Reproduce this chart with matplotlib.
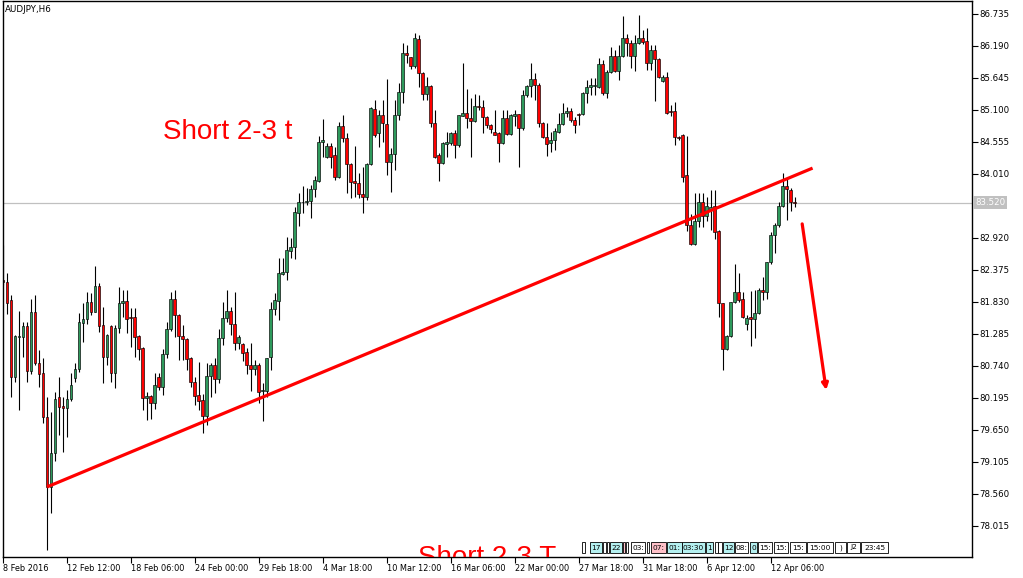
import numpy as np
import matplotlib.pyplot as plt
from matplotlib.patches import Rectangle
from matplotlib.transforms import blended_transform_factory

plt.rcParams['font.family'] = ['DejaVu Sans']

symbol = 'AUDJPY,H6'

# H6 candles (one value per bar)
opens = [82.21, 82.17, 81.86, 80.55, 81.24, 81.24, 81.42, 80.66, 81.66, 80.79,
         80.62, 79.87, 78.68, 79.26, 80.21, 80.06, 80.02, 80.18, 80.54, 80.69,
         81.47, 81.54, 81.83, 81.66, 82.10, 81.44, 80.89, 81.42, 80.62, 81.39,
         81.81, 81.85, 81.57, 81.57, 81.25, 81.05, 80.19, 80.23, 80.11, 80.55,
         80.38, 80.94, 81.37, 81.88, 81.61, 81.25, 81.20, 80.88, 80.47, 80.25,
         80.16, 79.89, 80.57, 80.76, 80.52, 81.22, 81.56, 81.68, 81.45, 81.13,
         81.12, 80.98, 80.76, 80.69, 80.76, 80.31, 80.31, 80.89, 81.71, 81.85,
         82.31, 82.34, 82.70, 82.77, 83.35, 83.53, 83.53, 83.55, 83.75, 83.89,
         84.55, 84.30, 84.49, 84.33, 83.96, 84.83, 84.62, 84.18, 83.89, 83.86,
         83.67, 83.62, 84.18, 85.12, 84.71, 85.01, 84.86, 84.21, 84.35, 85.01,
         85.41, 86.07, 86.00, 85.85, 86.31, 85.73, 85.37, 85.51, 84.88, 84.33,
         84.20, 84.52, 84.54, 84.71, 84.50, 85.00, 85.05, 84.96, 84.91, 85.17,
         85.15, 84.98, 84.84, 84.73, 84.71, 84.54, 84.96, 84.69, 85.00, 85.03,
         84.79, 85.35, 85.51, 85.63, 85.53, 84.88, 84.64, 84.54, 84.59, 84.73,
         84.86, 85.05, 85.08, 84.93, 85.03, 85.03, 85.39, 85.49, 85.51, 85.49,
         85.88, 85.39, 85.75, 86.02, 85.76, 86.02, 86.33, 86.24, 86.02, 86.24,
         86.33, 86.27, 85.90, 86.12, 85.97, 85.59, 85.66, 85.08, 85.08, 84.64,
         84.67, 83.99, 83.14, 82.82, 83.21, 83.53, 83.29, 83.40, 83.47, 83.04,
         81.81, 81.03, 81.25, 81.83, 82.00, 81.88, 81.46, 81.57, 81.54, 81.64,
         82.03, 82.00, 82.51, 82.97, 83.14, 83.46, 83.80, 83.74, 83.53]
highs = [82.80, 82.32, 81.95, 81.27, 81.68, 81.49, 81.49, 81.88, 81.95, 81.01,
         80.88, 80.21, 79.96, 80.30, 80.55, 80.21, 80.33, 80.62, 80.79, 81.64,
         81.81, 82.00, 81.98, 82.44, 82.15, 81.74, 81.29, 81.43, 81.44, 82.09,
         82.03, 82.03, 81.73, 81.73, 81.26, 81.06, 80.30, 80.24, 80.62, 80.62,
         81.03, 81.49, 82.00, 82.03, 81.62, 81.44, 81.22, 80.89, 80.55, 80.81,
         80.26, 80.79, 80.79, 80.88, 81.37, 81.83, 82.03, 81.74, 82.00, 81.27,
         81.13, 81.05, 81.13, 80.84, 80.79, 80.45, 80.88, 81.83, 81.98, 82.58,
         82.58, 82.94, 82.92, 83.45, 83.69, 83.81, 83.77, 83.82, 83.98, 84.66,
         84.95, 84.54, 84.54, 84.47, 84.90, 85.02, 84.71, 84.20, 84.49, 84.03,
         84.13, 84.20, 85.15, 85.27, 85.10, 85.27, 85.63, 84.45, 85.27, 85.56,
         86.24, 86.21, 86.01, 86.41, 86.38, 85.75, 85.66, 85.53, 85.10, 84.37,
         84.55, 84.72, 84.72, 84.76, 85.02, 85.90, 85.46, 85.30, 85.37, 85.35,
         85.27, 85.00, 84.86, 85.10, 84.72, 85.10, 85.10, 85.03, 85.10, 85.04,
         85.44, 85.53, 85.90, 85.73, 85.56, 84.90, 84.88, 84.72, 84.79, 85.05,
         85.22, 85.15, 85.13, 84.98, 85.05, 85.40, 85.61, 85.64, 85.64, 85.99,
         85.95, 85.78, 86.17, 86.12, 86.21, 86.70, 86.39, 86.29, 86.38, 86.72,
         86.46, 86.50, 86.21, 86.21, 85.99, 85.70, 85.75, 85.18, 85.24, 84.66,
         84.69, 84.66, 83.33, 83.69, 83.69, 83.69, 83.62, 83.74, 83.74, 83.05,
         81.82, 81.27, 81.83, 82.48, 82.32, 82.00, 81.61, 82.02, 82.03, 82.07,
         82.26, 82.51, 83.02, 83.17, 83.53, 84.02, 83.94, 83.77, 83.62]
lows = [82.12, 81.63, 80.21, 80.47, 79.99, 80.89, 80.47, 80.60, 80.76, 80.38,
        79.77, 77.61, 78.24, 79.12, 79.57, 79.28, 79.53, 80.14, 80.47, 80.64,
        81.15, 81.46, 81.61, 81.66, 81.32, 80.45, 80.76, 80.47, 80.36, 81.30,
        81.57, 81.30, 81.06, 80.89, 80.84, 79.99, 79.82, 79.84, 80.01, 80.33,
        80.25, 80.88, 81.34, 81.23, 80.84, 80.84, 80.67, 80.38, 80.08, 79.99,
        79.60, 79.73, 80.21, 80.28, 80.45, 81.10, 81.49, 81.27, 81.01, 81.03,
        80.82, 80.60, 80.31, 80.59, 80.11, 79.80, 80.21, 80.67, 81.61, 81.52,
        82.29, 82.21, 82.58, 82.56, 83.12, 83.35, 83.48, 83.26, 83.62, 83.87,
        84.30, 84.28, 84.11, 83.91, 83.94, 84.55, 83.69, 83.60, 83.62, 83.60,
        83.35, 83.57, 84.16, 84.64, 84.47, 84.55, 84.00, 83.70, 84.08, 84.93,
        85.22, 85.90, 85.80, 85.81, 85.49, 85.27, 85.27, 84.81, 84.28, 83.89,
        84.18, 84.30, 84.50, 84.28, 84.47, 84.99, 84.79, 84.30, 84.89, 85.10,
        84.71, 84.79, 84.71, 84.67, 84.21, 84.52, 84.67, 84.67, 84.83, 84.13,
        84.76, 85.32, 85.32, 85.27, 84.81, 84.62, 84.32, 84.38, 84.42, 84.71,
        84.84, 84.98, 84.90, 84.71, 84.84, 85.01, 85.22, 85.36, 85.36, 85.48,
        85.36, 85.30, 85.73, 85.75, 85.61, 86.00, 86.02, 85.81, 85.76, 86.22,
        86.22, 85.78, 85.78, 85.25, 85.64, 85.58, 85.03, 85.00, 84.50, 84.59,
        83.87, 83.04, 82.80, 82.80, 83.11, 83.11, 83.21, 83.06, 82.91, 81.57,
        80.67, 81.01, 81.23, 81.81, 81.83, 81.56, 81.35, 81.08, 81.22, 81.63,
        81.86, 81.88, 82.48, 82.66, 83.11, 83.45, 83.23, 83.38, 83.45]
closes = [82.17, 81.81, 80.55, 81.25, 81.25, 81.42, 80.66, 81.66, 80.79, 80.60,
          79.87, 78.68, 79.26, 80.18, 80.04, 80.02, 80.18, 80.42, 80.69, 81.49,
          81.54, 81.83, 81.66, 82.10, 81.42, 80.89, 81.27, 80.62, 81.39, 81.81,
          81.85, 81.54, 81.56, 81.23, 81.03, 80.19, 80.23, 80.11, 80.42, 80.38,
          80.94, 81.37, 81.88, 81.61, 81.25, 81.20, 80.86, 80.47, 80.23, 80.14,
          79.89, 80.57, 80.76, 80.52, 81.22, 81.56, 81.68, 81.45, 81.13, 81.23,
          80.96, 80.76, 80.69, 80.76, 80.30, 80.33, 80.88, 81.71, 81.86, 82.32,
          82.34, 82.72, 82.77, 83.36, 83.53, 83.54, 83.55, 83.75, 83.91, 84.55,
          84.59, 84.49, 84.30, 83.96, 84.83, 84.62, 84.18, 83.87, 83.86, 83.67,
          83.62, 84.18, 85.13, 84.67, 85.01, 84.88, 84.21, 84.35, 85.01, 85.41,
          86.07, 86.04, 85.85, 86.33, 85.73, 85.37, 85.51, 84.88, 84.30, 84.20,
          84.54, 84.55, 84.71, 84.50, 85.01, 85.05, 84.96, 84.91, 85.17, 85.15,
          84.98, 84.84, 84.78, 84.67, 84.54, 84.96, 84.69, 85.01, 85.03, 84.79,
          85.35, 85.51, 85.63, 85.53, 84.88, 84.64, 84.52, 84.59, 84.74, 84.86,
          85.05, 85.08, 84.93, 84.84, 85.02, 85.39, 85.49, 85.53, 85.53, 85.88,
          85.39, 85.75, 86.02, 85.76, 86.02, 86.33, 86.24, 86.02, 86.24, 86.33,
          86.26, 85.90, 86.12, 85.97, 85.66, 85.66, 85.05, 85.07, 84.64, 84.63,
          83.96, 83.14, 82.82, 83.21, 83.53, 83.29, 83.46, 83.45, 83.02, 81.81,
          81.03, 81.25, 81.83, 82.00, 81.86, 81.57, 81.56, 81.54, 81.64, 82.03,
          82.00, 82.51, 82.97, 83.14, 83.46, 83.80, 83.75, 83.53, 83.52]

date_labels = ['8 Feb 2016', '12 Feb 12:00', '18 Feb 06:00', '24 Feb 00:00',
               '29 Feb 18:00', '4 Mar 18:00', '10 Mar 12:00', '16 Mar 06:00',
               '22 Mar 00:00', '27 Mar 18:00', '31 Mar 18:00', '6 Apr 12:00',
               '12 Apr 06:00']
price_ticks = [78.015, 78.560, 79.105, 79.650, 80.195, 80.740, 81.285, 81.830,
               82.375, 82.920, 83.465, 84.010, 84.555, 85.100, 85.645, 86.190,
               86.735]
last_price = 83.520

# hand-drawn objects
trend_x = [11, 202.5]
trend_y = [78.68, 84.11]
arrow_from = (199.9, 83.16)
arrow_to = (205.9, 80.33)

W, H = 1023, 578
fig = plt.figure(figsize=(W / 100, H / 100), dpi=100)
ax = fig.add_axes([3 / W, 21 / H, 969 / W, 556 / H])

x = np.arange(len(opens))
o = np.array(opens)
c = np.array(closes)
up = c >= o
colors = np.where(up, '#2e9a5c', '#ff0000')

ax.axhline(last_price, color='#c0c0c0', lw=0.9, zorder=0)
ax.vlines(x, lows, highs, color='black', lw=0.8, zorder=1)
ax.bar(x, np.abs(c - o), bottom=np.minimum(o, c), width=0.72, color=colors,
       edgecolor='black', linewidth=0.45, zorder=2)

ax.plot(trend_x, trend_y, color='#ff0000', lw=2.3, zorder=3, solid_capstyle='butt')
ax.annotate('', xy=arrow_to, xytext=arrow_from,
            arrowprops=dict(arrowstyle='-|>', color='#ff0000', lw=2.3,
                            mutation_scale=9, shrinkA=0, shrinkB=0), zorder=3)

ax.text(40.1, 84.60, 'Short 2-3 t', color='#ff0000', fontsize=20,
        family='Liberation Sans', va='baseline', ha='left')
ax.text(103.9, 77.35, 'Short 2-3 T', color='#ff0000', fontsize=20,
        family='Liberation Sans', va='baseline', ha='left', clip_on=True)

ax.set_xlim(0.125, 242.375)
ax.set_ylim(77.487, 86.956)

ax.set_xticks(np.arange(len(date_labels)) * 16)
ax.set_xticklabels(date_labels)
for lbl in ax.get_xticklabels():
    lbl.set_ha('left')
ax.yaxis.tick_right()
ax.set_yticks(price_ticks)
# the 83.465 label sits under the current-price box
ax.set_yticklabels(['' if abs(p - last_price) < 0.1 else '%.3f' % p for p in price_ticks])
ax.tick_params(axis='x', direction='out', length=4, width=0.8, labelsize=5.9, pad=1)
ax.tick_params(axis='y', direction='out', length=4, width=0.8, labelsize=6.2, pad=1.5)
for s in ax.spines.values():
    s.set_linewidth(1)

tr = blended_transform_factory(ax.transAxes, ax.transData)
ax.text(1.003, last_price, '%.3f' % last_price, transform=tr, color='white',
        fontsize=6.2, va='center', ha='left', clip_on=False, zorder=10,
        bbox=dict(boxstyle='square,pad=0.25', fc='#c0c0c0', ec='none'))

fig.text(5 / W, 1 - 10 / H, symbol, fontsize=6.3, va='center', ha='left')

# event markers strip at the bottom right
strip = [(582, 585, '', 'white'), (590, 602, '17', '#b4f0f0'), (603, 606, '', 'white'),
         (607, 609, '', 'white'), (610, 622, '22', '#b4f0f0'), (623, 625, '', '#ffc0c8'),
         (626, 628, '', 'white'), (631, 645, '03:', 'white'), (647, 649, '', 'white'),
         (651, 666, '07:', '#ffc0c8'), (667, 682, '01:', '#b4f0f0'),
         (682, 705, '03:30', '#b4f0f0'), (706, 713, '1', '#b4f0f0'),
         (715, 718, '', 'white'), (718, 722, '', 'white'), (723, 734, '12', '#b4f0f0'),
         (735, 748, '08:', 'white'), (750, 757, '0', '#b4f0f0'), (758, 772, '15:', 'white'),
         (774, 788, '15:', 'white'), (790, 806, '15:', 'white'), (807, 833, '15:00', 'white'),
         (835, 846, ')', 'white'), (847, 860, 'J2', 'white'), (861, 888, '23:45', 'white')]
for x0, x1, txt, fc in strip:
    fig.patches.append(Rectangle((x0 / W, 1 - 553 / H), (x1 - x0) / W, 11 / H,
                                 transform=fig.transFigure, fc=fc, ec='black', lw=0.6))
    if txt:
        fig.text((x0 + x1) / 2 / W, 1 - 547.5 / H, txt, fontsize=5.3,
                 ha='center', va='center')

fig.savefig('out.png', dpi=100)
